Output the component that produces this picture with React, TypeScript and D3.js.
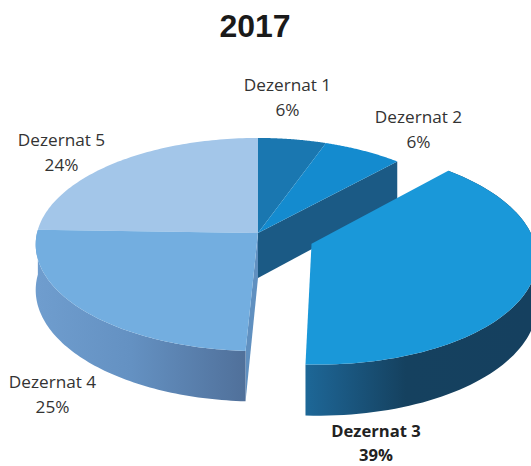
import React from "react";
import * as d3 from "d3";

const title = "2017";
const categories = ["Dezernat 1", "Dezernat 2", "Dezernat 3", "Dezernat 4", "Dezernat 5"];
const shares = [5.5, 6.4, 38.9, 24.7, 24.5];
const shareLabels = ["6%", "6%", "39%", "25%", "24%"];
const topColors = ["#1a77b0", "#148bcf", "#1a98d9", "#73aee0", "#a3c6e9"];
const explode = [0, 0, 0.26, 0, 0];
const labelX = [287.5, 418.5, 376, 52.5, 61.5];
const labelY = [91, 123, 437, 388, 146];
const lineGap = [25, 25, 24, 25, 25];
const boldLabel = [false, false, true, false, false];

const W = 531, H = 466;
const cx = 258, cy = 233, Rx = 221, Ry = 105.3, k = 0.108, depth = 45;

type P = [number, number];
const project = (u: number, v: number): { x: number; y: number; w: number } => {
  const w = 1 / (1 - k * v);
  return { x: cx + Rx * u * w, y: cy + Ry * v * w, w };
};
const pt = (a: number, r: number, e: number, mid: number) => {
  const u = r * Math.sin(a) + e * Math.sin(mid);
  const v = -r * Math.cos(a) - e * Math.cos(mid);
  return project(u, v);
};
const pie = d3.pie<number>().value((d) => d).sort(null);
const arcs = pie(shares);
const line = d3.line<P>().x((d) => d[0]).y((d) => d[1]);

const rim = (s: number, e: number, ex: number, mid: number) =>
  d3.range(0, 81).map((i) => pt(s + ((e - s) * i) / 80, 1, ex, mid));

const top = (i: number) => {
  const a = arcs[i];
  const mid = (a.startAngle + a.endAngle) / 2;
  const c = pt(0, 0, explode[i], mid);
  const pts: P[] = [[c.x, c.y], ...rim(a.startAngle, a.endAngle, explode[i], mid).map((p) => [p.x, p.y] as P)];
  return line(pts) + "Z";
};
const outerWall = (i: number) => {
  const a = arcs[i];
  const mid = (a.startAngle + a.endAngle) / 2;
  const r = rim(a.startAngle, a.endAngle, explode[i], mid);
  const pts: P[] = [
    ...r.map((p) => [p.x, p.y] as P),
    ...r.slice().reverse().map((p) => [p.x, p.y + depth * p.w] as P),
  ];
  return line(pts) + "Z";
};
const sideWall = (i: number, angle: number) => {
  const a = arcs[i];
  const mid = (a.startAngle + a.endAngle) / 2;
  const c = pt(0, 0, explode[i], mid);
  const e = pt(angle, 1, explode[i], mid);
  const pts: P[] = [
    [c.x, c.y],
    [e.x, e.y],
    [e.x, e.y + depth * e.w],
    [c.x, c.y + depth * c.w],
  ];
  return line(pts) + "Z";
};

export default function App() {
  return (
    <svg width={W} height={H} style={{ position: "absolute", left: 0, top: 0, background: "#fff" }}>
      <defs>
        <linearGradient id="w3" gradientUnits="userSpaceOnUse" x1={304} x2={530} y1={0} y2={0}>
          <stop offset="0" stopColor="#1d6898" />
          <stop offset="0.1" stopColor="#1c5f8c" />
          <stop offset="0.45" stopColor="#15415f" />
          <stop offset="1" stopColor="#15405f" />
        </linearGradient>
        <linearGradient id="w4" gradientUnits="userSpaceOnUse" x1={37} x2={246} y1={0} y2={0}>
          <stop offset="0" stopColor="#6f9dce" />
          <stop offset="0.45" stopColor="#6491c2" />
          <stop offset="1" stopColor="#50709a" />
        </linearGradient>
      </defs>

      <text x={255} y={37} textAnchor="middle" fontFamily="'Liberation Sans', Arial, sans-serif"
        fontWeight={700} fontSize={32} fill="#1a1a1a">{title}</text>

      {/* back pieces */}
      <path d={sideWall(1, arcs[1].endAngle)} fill="#1b5a85" />
      <path d={top(0)} fill={topColors[0]} />
      <path d={top(1)} fill={topColors[1]} />
      <path d={top(4)} fill={topColors[4]} />

      {/* front left slice */}
      <path d={sideWall(3, arcs[3].startAngle)} fill="#6090c0" />
      <path d={outerWall(3)} fill="url(#w4)" />
      <path d={top(3)} fill={topColors[3]} />

      {/* exploded slice */}
      <path d={outerWall(2)} fill="url(#w3)" />
      <path d={top(2)} fill={topColors[2]} />

      {categories.map((c, i) => (
        <text key={c} textAnchor="middle" fontFamily="'Open Sans', sans-serif"
          fontSize={boldLabel[i] ? 16.6 : 17.2}
          fontWeight={boldLabel[i] ? 700 : 400} fill={boldLabel[i] ? "#222" : "#333"}>
          <tspan x={labelX[i]} y={labelY[i]}>{c}</tspan>
          <tspan x={labelX[i]} y={labelY[i] + lineGap[i]}>{shareLabels[i]}</tspan>
        </text>
      ))}
    </svg>
  );
}
